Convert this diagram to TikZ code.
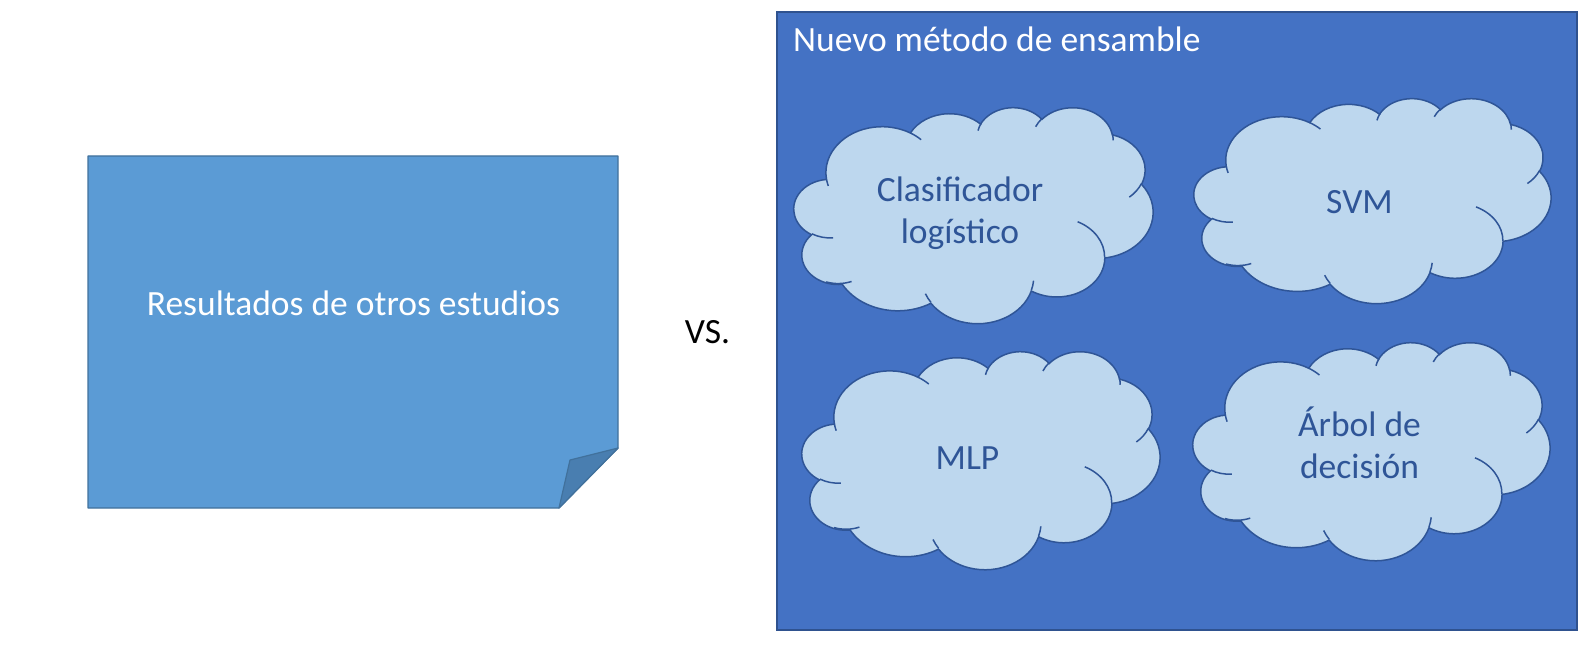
\documentclass[tikz,border=0pt]{standalone}
\usepackage{fontspec}
\setmainfont{Carlito}
\definecolor{leftfill}{HTML}{5B9BD5}
\definecolor{leftline}{HTML}{41719C}
\definecolor{foldfill}{HTML}{497EB0}
\definecolor{rightfill}{HTML}{4472C4}
\definecolor{rightline}{HTML}{2F528F}
\definecolor{cloudfill}{HTML}{BDD7EE}
\definecolor{cloudline}{HTML}{2F5597}
\definecolor{cloudtxt}{HTML}{2F5597}
\newcommand{\bigfs}{\fontsize{35.5}{42}\selectfont}
% one arc of the cloud outline: wR, hR, start angle, sweep (visual angles)
\newcommand{\cldarc}[4]{%
  \pgfmathsetmacro{\cts}{atan2(#1*sin(#3), #2*cos(#3))}%
  \pgfmathsetmacro{\cte}{atan2(#1*sin(#3+#4), #2*cos(#3+#4))}%
  \pgfmathsetmacro{\cdd}{\cte-\cts}%
  \pgfmathsetmacro{\cdd}{(#4>0)*(\cdd<0)*360 - (#4<0)*(\cdd>0)*360 + \cdd}%
  \pgfpatharc{\cts}{\cts+\cdd}{#1pt and #2pt}%
}
\newcommand{\cldmove}[2]{\pgfpathmoveto{\pgfpoint{#1pt}{#2pt}}}
\newcommand{\cloudoutline}{%
  \cldmove{390}{1437}%
  \cldarc{675.3}{919.0}{-190.4875}{123.7805}%
  \cldarc{533.3}{726.7}{-144.1024}{89.9452}%
  \cldarc{436.5}{594.5}{-145.8079}{99.7230}%
  \cldarc{485.7}{659.5}{-130.9861}{117.2417}%
  \cldarc{533.3}{727.3}{-78.7089}{109.0269}%
  \cldarc{677.5}{922.0}{-46.2673}{130.2690}%
  \cldarc{578.5}{786.7}{0.6250}{114.0333}%
  \cldarc{675.2}{921.5}{22.4516}{115.1726}%
  \cldarc{772.0}{1054.3}{66.2426}{75.7110}%
  \cldarc{436.0}{591.8}{-274.9421}{146.7356}%
  \cldarc{434.5}{594.5}{-246.8285}{152.5189}%
  \pgfpathclose}
\newcommand{\cloudinner}{%
  \cldmove{469.3}{2617.7}\cldarc{434.5}{594.5}{86.7420}{26.4295}%
  \cldmove{692.8}{3489.9}\cldarc{436.0}{591.8}{73.6105}{30.8222}%
  \cldmove{1647.8}{3909.0}\cldarc{675.2}{921.5}{137.6242}{14.0676}%
  \cldmove{2882.7}{3475.1}\cldarc{675.2}{921.5}{6.4533}{15.9984}%
  \cldmove{3412.9}{2295.4}\cldarc{578.5}{786.7}{-70.2924}{70.9174}%
  \cldmove{4179.8}{1535.4}\cldarc{533.3}{727.3}{30.3180}{27.7515}%
  \cldmove{3832.4}{542.6}\cldarc{485.7}{659.5}{-13.7443}{14.8589}%
  \cldmove{2907.8}{395.2}\cldarc{485.7}{659.5}{-149.1815}{18.1954}%
  \cldmove{2214.1}{472.0}\cldarc{436.5}{594.5}{-163.4943}{17.6864}%
  \cldmove{1400.0}{519.2}\cldarc{675.3}{919.0}{-66.7070}{12.3194}%
  \cldmove{412.7}{1578.9}\cldarc{675.3}{919.0}{157.6544}{11.8582}}
% cloud with top-left corner (#1,#2), width #3, height #4
\newcommand{\drawcloud}[4]{%
  \begin{scope}[shift={(#1,#2)}, xscale=#3/4320, yscale=-#4/4320]
    \pgfsetlinewidth{1.5pt}%
    \pgfsetstrokecolor{cloudline}%
    \pgfsetfillcolor{cloudfill}%
    \cloudoutline\pgfusepath{fill,stroke}%
    \cloudinner\pgfusepath{stroke}%
  \end{scope}}
\tikzset{
  whitetext/.style={text=white, font=\bigfs, inner sep=0pt, align=center},
  blacktext/.style={text=black, font=\bigfs, inner sep=0pt},
  cloudtext/.style={text=cloudtxt, font=\bigfs, inner sep=0pt, align=center},
  notebox/.style={fill=leftfill, draw=leftline, line width=1.4pt, line join=round},
  foldbox/.style={fill=foldfill, draw=leftline, line width=1.2pt, line join=round},
  groupbox/.style={fill=rightfill, draw=rightline, line width=1.8pt}
}
\begin{document}
\begin{tikzpicture}[x=1pt, y=-1pt]
  \useasboundingbox (0,0) rectangle (1586,647);
  % left note
  \coordinate (n1) at (88,156);
  \coordinate (n2) at (618,156);
  \coordinate (n3) at (618,448);
  \coordinate (n4) at (559,508);
  \coordinate (n5) at (88,508);
  \coordinate (nf) at (570,460);
  \path[notebox] (n1) -- (n2) -- (n3) -- (n4) -- (n5) -- cycle;
  \path[foldbox] (n3) -- (nf) -- (n4) -- cycle;
  \node[whitetext, anchor=base] (res) at (353.5,315) {Resultados de otros estudios};
  % vs
  \node[blacktext, anchor=base] (vs) at (707.5,343) {VS.};
  % right group
  \node[groupbox, minimum width=800pt, minimum height=618pt, inner sep=0pt, anchor=north west] (grp) at (776,11) {};
  \node[whitetext, anchor=base west] (title) at (793,52) {Nuevo método de ensamble};
  % clouds
  \drawcloud{794}{107}{359}{216}
  \drawcloud{1194}{98}{357}{205}
  \drawcloud{802}{351}{358}{218}
  \drawcloud{1193}{342}{357}{218}
  \node[cloudtext, anchor=base] (c1) at (960,243) {Clasificador\\logístico};
  \node[cloudtext, anchor=base] (c2) at (1359.5,213) {SVM};
  \node[cloudtext, anchor=base] (c3) at (967.5,469) {MLP};
  \node[cloudtext, anchor=base] (c4) at (1359.5,478) {Árbol de\\decisión};
\end{tikzpicture}
\end{document}
